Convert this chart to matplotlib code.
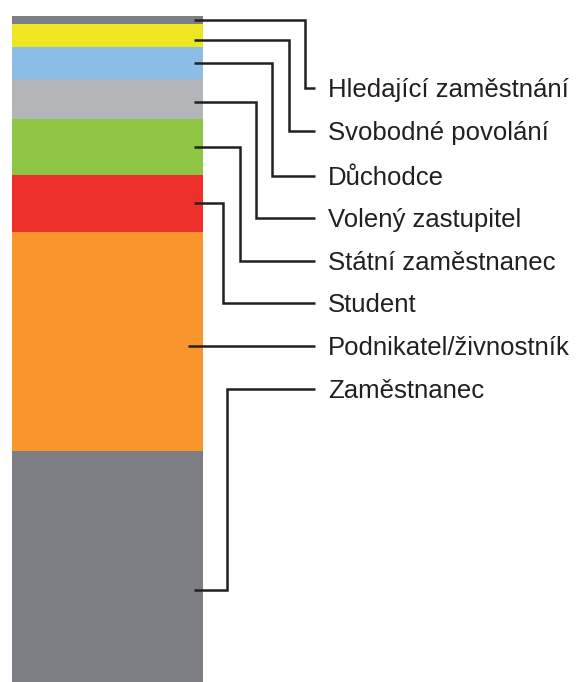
import numpy as np
import matplotlib.pyplot as plt

# shares in %, top of the bar first
labels = ["Hledající zaměstnání", "Svobodné povolání", "Důchodce",
          "Volený zastupitel", "Státní zaměstnanec", "Student",
          "Podnikatel/živnostník", "Zaměstnanec"]
values = [1.2, 3.4, 4.8, 6.0, 8.4, 8.7, 32.8, 34.7]
colors = ["#7d7e83", "#ede623", "#8cbde6", "#b3b6b9",
          "#8ec643", "#ee302b", "#f8952d", "#7d7e83"]

# layout (figure pixels)
W, H = 585, 682
bar_left, bar_right, bar_top = 12, 203, 16
scale = (H - bar_top) / 100.0          # px per percent
anchor_frac = [0.5, 0.7, 0.5, 0.58, 0.5, 0.5, 0.53, 0.6]
elbow_x = [305, 289, 272, 256, 240, 223, None, 227]
start_x = [194, 194, 194, 194, 194, 194, 188, 194]
label_px = [88, 131, 176, 218, 261, 303, 346, 389]
line_end, text_x = 315, 328
ink = "#231f20"

fig = plt.figure(figsize=(W / 100, H / 100), dpi=100)
ax = fig.add_axes([0, 0, 1, 1])
ax.set_xlim(0, W)
ax.set_ylim(0, H / scale)
ax.axis("off")

def py(p):
    return (H - p) / scale

# stack from the bottom up
tops = 100 - np.concatenate([[0], np.cumsum(values)[:-1]])
bottoms = tops - np.array(values)
ax.bar((bar_left + bar_right) / 2, values, width=bar_right - bar_left,
       bottom=bottoms, color=colors, linewidth=0)

for i, lab in enumerate(labels):
    ya = tops[i] - anchor_frac[i] * values[i]
    yl = py(label_px[i])
    if elbow_x[i] is None:
        xs, ys = [start_x[i], line_end], [yl, yl]
    else:
        xs = [start_x[i], elbow_x[i], elbow_x[i], line_end]
        ys = [ya, ya, yl, yl]
    ax.plot(xs, ys, color=ink, lw=1.8, solid_joinstyle="miter",
            solid_capstyle="butt")
    ax.text(text_x, py(label_px[i] + 9), lab, fontsize=18.5,
            family="Liberation Sans", color=ink, va="baseline", ha="left")

fig.savefig("out.png", dpi=100)
